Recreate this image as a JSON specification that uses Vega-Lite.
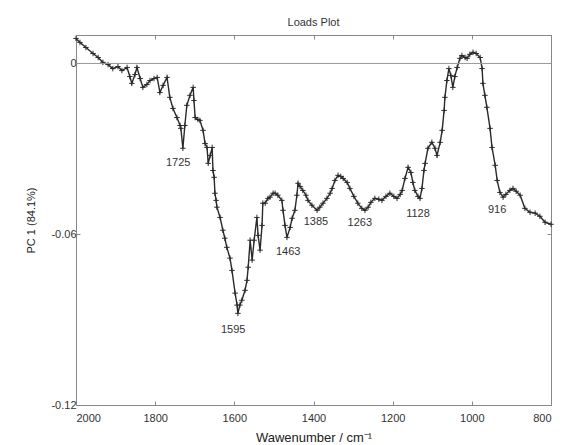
{
  "$schema": "https://vega.github.io/schema/vega-lite/v6.json",
  "width": 475,
  "height": 370,
  "autosize": "none",
  "padding": {"left": 76, "top": 35, "right": 12, "bottom": 40},
  "title": {"text": "Loads Plot", "fontSize": 11, "fontWeight": "normal", "color": "#333", "font": "Liberation Sans", "offset": 6},
  "config": {
    "font": "Liberation Sans",
    "view": {"stroke": "#888", "strokeWidth": 1},
    "axis": {"grid": false, "domain": false, "labelFont": "Liberation Sans", "titleFont": "Liberation Sans", "labelColor": "#333", "titleColor": "#222", "tickColor": "#888", "labelFontSize": 11, "titleFontWeight": "normal"}
  },
  "resolve": {"axis": {"x": "independent", "y": "independent"}},
  "datasets": {
    "pc": [
      {"w": 2000, "v": 0.0088}, {"w": 1990, "v": 0.0074}, {"w": 1975, "v": 0.0056}, {"w": 1957, "v": 0.0035},
      {"w": 1944, "v": 0.0021}, {"w": 1932, "v": 0.0004}, {"w": 1919, "v": -0.0004}, {"w": 1907, "v": -0.0018},
      {"w": 1894, "v": -0.0011}, {"w": 1884, "v": -0.0025}, {"w": 1871, "v": -0.0014}, {"w": 1864, "v": -0.0046},
      {"w": 1859, "v": -0.0070}, {"w": 1851, "v": -0.0039}, {"w": 1846, "v": -0.0014}, {"w": 1838, "v": -0.0053},
      {"w": 1831, "v": -0.0084}, {"w": 1821, "v": -0.0074}, {"w": 1813, "v": -0.0060}, {"w": 1803, "v": -0.0053},
      {"w": 1795, "v": -0.0049}, {"w": 1788, "v": -0.0102}, {"w": 1780, "v": -0.0077}, {"w": 1770, "v": -0.0049},
      {"w": 1763, "v": -0.0119}, {"w": 1755, "v": -0.0158}, {"w": 1745, "v": -0.0190}, {"w": 1737, "v": -0.0218},
      {"w": 1735, "v": -0.0228}, {"w": 1730, "v": -0.0298}, {"w": 1725, "v": -0.0218}, {"w": 1720, "v": -0.0147},
      {"w": 1712, "v": -0.0112}, {"w": 1704, "v": -0.0084}, {"w": 1702, "v": -0.0130}, {"w": 1699, "v": -0.0190},
      {"w": 1692, "v": -0.0197}, {"w": 1687, "v": -0.0200}, {"w": 1679, "v": -0.0235}, {"w": 1674, "v": -0.0281},
      {"w": 1669, "v": -0.0295}, {"w": 1666, "v": -0.0351}, {"w": 1661, "v": -0.0323}, {"w": 1656, "v": -0.0295},
      {"w": 1654, "v": -0.0376}, {"w": 1651, "v": -0.0400}, {"w": 1649, "v": -0.0456}, {"w": 1646, "v": -0.0481},
      {"w": 1644, "v": -0.0505}, {"w": 1636, "v": -0.0541}, {"w": 1629, "v": -0.0586}, {"w": 1624, "v": -0.0614},
      {"w": 1619, "v": -0.0646}, {"w": 1611, "v": -0.0684}, {"w": 1606, "v": -0.0727}, {"w": 1598, "v": -0.0807},
      {"w": 1593, "v": -0.0849}, {"w": 1591, "v": -0.0878}, {"w": 1586, "v": -0.0849}, {"w": 1581, "v": -0.0832},
      {"w": 1573, "v": -0.0797}, {"w": 1568, "v": -0.0762}, {"w": 1565, "v": -0.0716}, {"w": 1560, "v": -0.0621},
      {"w": 1555, "v": -0.0691}, {"w": 1550, "v": -0.0621}, {"w": 1543, "v": -0.0541}, {"w": 1540, "v": -0.0604},
      {"w": 1535, "v": -0.0656}, {"w": 1530, "v": -0.0569}, {"w": 1528, "v": -0.0491}, {"w": 1522, "v": -0.0491},
      {"w": 1515, "v": -0.0474}, {"w": 1510, "v": -0.0470}, {"w": 1502, "v": -0.0456}, {"w": 1497, "v": -0.0456},
      {"w": 1490, "v": -0.0463}, {"w": 1480, "v": -0.0481}, {"w": 1477, "v": -0.0516}, {"w": 1472, "v": -0.0569},
      {"w": 1467, "v": -0.0611}, {"w": 1459, "v": -0.0576}, {"w": 1454, "v": -0.0544}, {"w": 1447, "v": -0.0516},
      {"w": 1442, "v": -0.0463}, {"w": 1439, "v": -0.0421}, {"w": 1434, "v": -0.0432}, {"w": 1427, "v": -0.0446},
      {"w": 1419, "v": -0.0463}, {"w": 1414, "v": -0.0481}, {"w": 1404, "v": -0.0498}, {"w": 1391, "v": -0.0516},
      {"w": 1384, "v": -0.0505}, {"w": 1376, "v": -0.0491}, {"w": 1366, "v": -0.0474}, {"w": 1358, "v": -0.0456},
      {"w": 1353, "v": -0.0439}, {"w": 1346, "v": -0.0411}, {"w": 1338, "v": -0.0393}, {"w": 1331, "v": -0.0397},
      {"w": 1325, "v": -0.0404}, {"w": 1315, "v": -0.0418}, {"w": 1308, "v": -0.0439}, {"w": 1298, "v": -0.0467},
      {"w": 1288, "v": -0.0491}, {"w": 1278, "v": -0.0509}, {"w": 1270, "v": -0.0516}, {"w": 1262, "v": -0.0505},
      {"w": 1255, "v": -0.0488}, {"w": 1245, "v": -0.0474}, {"w": 1235, "v": -0.0477}, {"w": 1227, "v": -0.0481},
      {"w": 1217, "v": -0.0467}, {"w": 1207, "v": -0.0456}, {"w": 1197, "v": -0.0467}, {"w": 1189, "v": -0.0474},
      {"w": 1181, "v": -0.0460}, {"w": 1176, "v": -0.0446}, {"w": 1169, "v": -0.0404}, {"w": 1161, "v": -0.0365},
      {"w": 1154, "v": -0.0383}, {"w": 1149, "v": -0.0418}, {"w": 1144, "v": -0.0446}, {"w": 1136, "v": -0.0467},
      {"w": 1131, "v": -0.0474}, {"w": 1126, "v": -0.0439}, {"w": 1121, "v": -0.0376}, {"w": 1118, "v": -0.0351},
      {"w": 1111, "v": -0.0298}, {"w": 1101, "v": -0.0277}, {"w": 1093, "v": -0.0298}, {"w": 1088, "v": -0.0323},
      {"w": 1080, "v": -0.0277}, {"w": 1075, "v": -0.0235}, {"w": 1070, "v": -0.0165}, {"w": 1068, "v": -0.0119},
      {"w": 1063, "v": -0.0060}, {"w": 1058, "v": -0.0018}, {"w": 1053, "v": -0.0042}, {"w": 1048, "v": -0.0084},
      {"w": 1043, "v": -0.0046}, {"w": 1037, "v": -0.0014}, {"w": 1030, "v": 0.0018}, {"w": 1025, "v": 0.0028},
      {"w": 1017, "v": 0.0021}, {"w": 1012, "v": 0.0018}, {"w": 1005, "v": 0.0032}, {"w": 997, "v": 0.0039},
      {"w": 989, "v": 0.0035}, {"w": 979, "v": 0.0021}, {"w": 974, "v": -0.0018}, {"w": 972, "v": -0.0070},
      {"w": 967, "v": -0.0112}, {"w": 962, "v": -0.0154}, {"w": 954, "v": -0.0228}, {"w": 949, "v": -0.0295},
      {"w": 941, "v": -0.0358}, {"w": 936, "v": -0.0411}, {"w": 929, "v": -0.0453}, {"w": 921, "v": -0.0470},
      {"w": 914, "v": -0.0460}, {"w": 904, "v": -0.0446}, {"w": 896, "v": -0.0439}, {"w": 888, "v": -0.0449},
      {"w": 878, "v": -0.0463}, {"w": 866, "v": -0.0509}, {"w": 853, "v": -0.0523}, {"w": 840, "v": -0.0526},
      {"w": 828, "v": -0.0537}, {"w": 815, "v": -0.0558}, {"w": 800, "v": -0.0565}
    ],
    "labels": [
      {"w": 1742, "v": -0.0348, "t": "1725"},
      {"w": 1603, "v": -0.0937, "t": "1595"},
      {"w": 1464, "v": -0.0663, "t": "1463"},
      {"w": 1394, "v": -0.0558, "t": "1385"},
      {"w": 1283, "v": -0.0562, "t": "1263"},
      {"w": 1136, "v": -0.0530, "t": "1128"},
      {"w": 936, "v": -0.0516, "t": "916"}
    ],
    "zero": [{"v": 0}]
  },
  "layer": [
    {
      "data": {"name": "pc"},
      "mark": {"type": "line", "color": "#2a2a2a", "strokeWidth": 1.4},
      "encoding": {
        "x": {"field": "w", "type": "quantitative", "scale": {"domain": [800, 2000], "reverse": true, "nice": false},
          "axis": {"values": [2000, 1800, 1600, 1400, 1200, 1000, 800], "format": "d", "title": "Wawenumber / cm⁻¹", "titleFontSize": 13, "tickSize": -4, "labelPadding": 11, "titlePadding": 8}},
        "y": {"field": "v", "type": "quantitative", "scale": {"domain": [-0.12, 0.01], "nice": false, "zero": false},
          "axis": {"values": [0, -0.06, -0.12], "labelExpr": "datum.value == 0 ? '0' : (datum.value == -0.06 ? '-0.06' : '-0.12')", "title": "PC 1 (84.1%)", "titleFontSize": 11, "tickSize": -4, "labelPadding": 4, "titlePadding": 14}}
      }
    },
    {
      "data": {"name": "pc"},
      "mark": {"type": "point", "shape": "M-1,0H1M0,-1V1", "filled": false, "stroke": "#2a2a2a", "strokeWidth": 1, "size": 30, "opacity": 1},
      "encoding": {
        "x": {"field": "w", "type": "quantitative",
          "axis": {"orient": "top", "values": [2000, 1800, 1600, 1400, 1200, 1000, 800], "labels": false, "title": null, "tickSize": -4}},
        "y": {"field": "v", "type": "quantitative",
          "axis": {"orient": "right", "values": [0, -0.06, -0.12], "labels": false, "title": null, "tickSize": -4}}
      }
    },
    {
      "data": {"name": "zero"},
      "mark": {"type": "rule", "color": "#999", "strokeWidth": 1},
      "encoding": {"y": {"field": "v", "type": "quantitative", "axis": null}}
    },
    {
      "data": {"name": "labels"},
      "mark": {"type": "text", "fontSize": 11, "color": "#333", "font": "Liberation Sans"},
      "encoding": {
        "x": {"field": "w", "type": "quantitative", "axis": null},
        "y": {"field": "v", "type": "quantitative", "axis": null},
        "text": {"field": "t", "type": "nominal"}
      }
    }
  ]
}
